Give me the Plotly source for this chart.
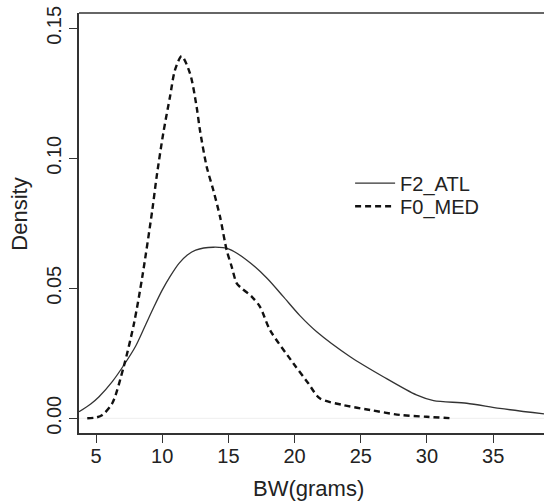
import plotly.graph_objects as go

# F2_ATL (solid)
atl_x = [3.72, 4.6, 5.23, 6.23, 7.11, 8.0, 8.75, 9.38, 10.0, 10.59, 11.27, 11.9, 12.53, 13.86, 15.05,
         16.3, 17.9, 19.15, 20.4, 21.67, 24.2, 26.7, 29.2, 30.5, 33.0, 35.5, 38.84]
atl_y = [0.0025, 0.0055, 0.0083, 0.0141, 0.0205, 0.0278, 0.0360, 0.0429, 0.0493, 0.0545, 0.0596, 0.0628,
         0.0647, 0.0658, 0.0651, 0.0612, 0.0540, 0.0468, 0.0395, 0.0333, 0.0237, 0.0160, 0.0090,
         0.0068, 0.0058, 0.0038, 0.0017]

# F0_MED (dashed)
med_x = [4.34, 5.0, 5.48, 6.23, 7.1, 7.87, 8.5, 9.25, 9.58, 10.08, 10.59, 10.97, 11.47, 12.1, 12.6,
         12.85, 13.36, 13.86, 14.37, 14.87, 15.25, 15.63, 16.0, 16.76, 17.39, 18.14, 19.9, 21.03, 21.9,
         23.68, 25.7, 27.96, 29.98, 31.87]
med_y = [0.0, 0.0003, 0.0013, 0.0058, 0.020, 0.0365, 0.0545, 0.080, 0.0929, 0.1096, 0.1237, 0.134,
         0.1393, 0.1327, 0.1198, 0.1109, 0.0968, 0.0878, 0.0775, 0.0647, 0.0583, 0.0519, 0.050, 0.0468,
         0.0429, 0.034, 0.0212, 0.0135, 0.0077, 0.0051, 0.0032, 0.0013, 0.0006, 0.0]

x_ticks = [5, 10, 15, 20, 25, 30, 35]
y_ticks = [0.00, 0.05, 0.10, 0.15]
y_tick_text = ["0.00", "0.05", "0.10", "0.15"]

FONT = "Liberation Sans, Arial, sans-serif"
INK = "#222222"

fig = go.Figure()
fig.add_trace(go.Scatter(x=atl_x, y=atl_y, mode="lines", name="F2_ATL", legend="legend",
                         line=dict(color="#333333", width=1.3, shape="spline", smoothing=0.8)))
fig.add_trace(go.Scatter(x=med_x, y=med_y, mode="lines", name="F0_MED", legend="legend2",
                         line=dict(color="#111111", width=2.4, dash="6px,4px", shape="spline", smoothing=0.8)))

leg_common = dict(x=0.583, xanchor="left", yanchor="middle",
                  font=dict(size=20, family=FONT, color=INK),
                  bgcolor="rgba(0,0,0,0)", itemwidth=40)

fig.update_layout(
    width=544, height=501,
    margin=dict(l=79, r=0, t=13, b=68),
    paper_bgcolor="white", plot_bgcolor="white",
    font=dict(family=FONT, color=INK),
    showlegend=True,
    legend=dict(y=0.595, **leg_common),
    legend2=dict(y=0.540, **leg_common),
    xaxis=dict(range=[3.716, 38.84], tickvals=x_ticks, ticks="outside", ticklen=8,
               tickcolor="#333333", tickwidth=1.3, automargin=False, ticklabelstandoff=-4,
               showline=True, linecolor="#333333", linewidth=1.5, mirror=False,
               showgrid=False, zeroline=False, tickfont=dict(size=20, color=INK)),
    yaxis=dict(range=[-0.00565, 0.1559], tickvals=y_ticks, ticktext=y_tick_text, ticks="outside",
               ticklen=8, tickcolor="#333333", tickwidth=1.3, tickangle=-90, automargin=False,
               showline=True, linecolor="#333333", linewidth=1.5, mirror=False,
               showgrid=False, zeroline=False, tickfont=dict(size=20, color=INK)),
    shapes=[
        dict(type="line", xref="paper", yref="paper", x0=0, x1=1, y0=1, y1=1,
             line=dict(color="#333333", width=1.5)),
        dict(type="line", xref="paper", yref="y", x0=0, x1=1, y0=0, y1=0,
             line=dict(color="#eeeeee", width=1), layer="below"),
    ],
    annotations=[
        dict(text="BW(grams)", xref="paper", yref="paper", x=0.4946, y=-0.131,
             xanchor="center", yanchor="middle", showarrow=False, font=dict(size=22, color=INK)),
        dict(text="Density", xref="paper", yref="paper", x=-0.128, y=0.521, textangle=-90,
             xanchor="center", yanchor="middle", showarrow=False, font=dict(size=22, color=INK)),
    ],
)

fig.write_html("out.html", config={"displayModeBar": False},
               post_script="document.body.style.margin='0px';document.body.style.overflow='hidden';")
